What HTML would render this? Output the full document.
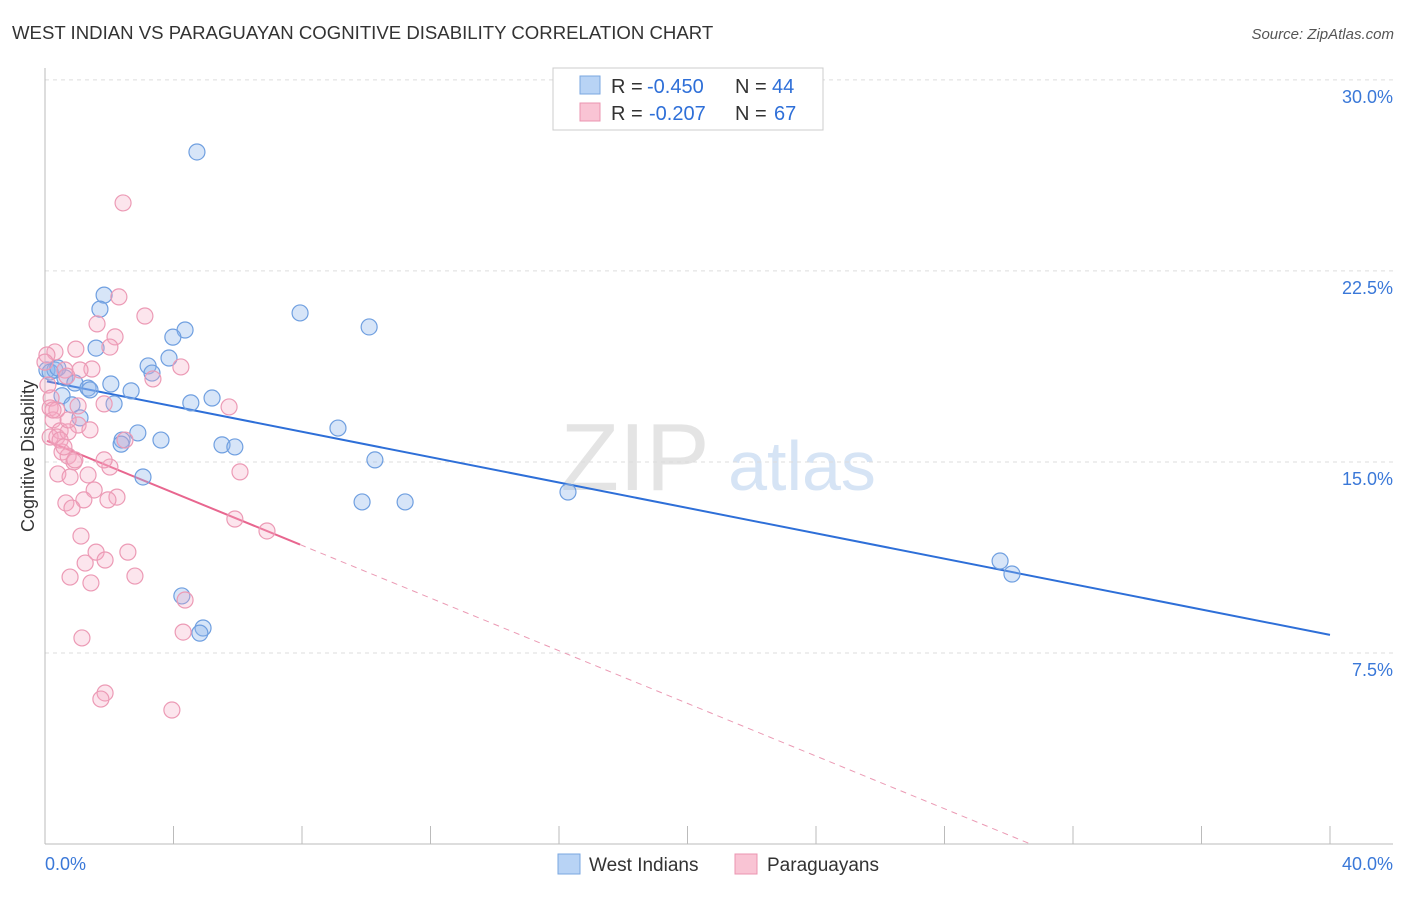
<!DOCTYPE html>
<html><head><meta charset="utf-8"><style>
body{margin:0;background:#fff;font-family:"Liberation Sans",sans-serif}
svg text{font-family:"Liberation Sans",sans-serif}
</style></head><body>
<svg id="c" width="1406" height="892" xmlns="http://www.w3.org/2000/svg">
<text x="12" y="39" font-size="18.6" fill="#333">WEST INDIAN VS PARAGUAYAN COGNITIVE DISABILITY CORRELATION CHART</text>
<text x="1394" y="39" font-size="15" fill="#555" font-style="italic" text-anchor="end">Source: ZipAtlas.com</text>
<text x="635" y="490" font-size="96" fill="#e4e4e4" font-family="Liberation Serif" text-anchor="middle">ZIP</text>
<text x="802" y="490" font-size="70" fill="#d6e4f5" text-anchor="middle">atlas</text>
<text x="34" y="456" font-size="18" fill="#333" text-anchor="middle" transform="rotate(-90 34 456)">Cognitive Disability</text>
<g id="grid"></g><g id="axes"></g><g id="lines"></g><g id="pts"></g>
<g>
<rect x="553" y="68" width="270" height="62" fill="#fff" stroke="#ccc"/>
<rect x="580" y="76" width="20" height="18" fill="#b8d3f5" stroke="#7aa7e0"/>
<rect x="580" y="103" width="20" height="18" fill="#f9c4d4" stroke="#eb94b0"/>
<text x="611" y="93" font-size="20" fill="#333">R =</text>
<text x="647" y="93" font-size="20" fill="#2e6fd8">-0.450</text>
<text x="735" y="93" font-size="20" fill="#333">N =</text>
<text x="772" y="93" font-size="20" fill="#2e6fd8">44</text>
<text x="611" y="120" font-size="20" fill="#333">R =</text>
<text x="649" y="120" font-size="20" fill="#2e6fd8">-0.207</text>
<text x="735" y="120" font-size="20" fill="#333">N =</text>
<text x="774" y="120" font-size="20" fill="#2e6fd8">67</text>
</g>
<g>
<rect x="558" y="854" width="22" height="20" fill="#b8d3f5" stroke="#7aa7e0"/>
<text x="589" y="871" font-size="19" fill="#333">West Indians</text>
<rect x="735" y="854" width="22" height="20" fill="#f9c4d4" stroke="#eb94b0"/>
<text x="767" y="871" font-size="19" fill="#333">Paraguayans</text>
</g>
</svg>
<script>
const yTicks=[7.5,15,22.5,30];
const yTickLabels=["7.5%","15.0%","22.5%","30.0%"];
const xTicks=[0,4,8,12,16,20,24,28,32,36,40];
const xEndLabels=["0.0%","40.0%"];
const blueX=[4.73,1.84,1.71,7.94,4.36,10.09,3.98,1.59,3.21,3.86,3.33,0.06,0.31,0.62,0.93,1.34,2.05,2.68,1.40,0.53,2.15,4.54,5.2,0.84,1.09,9.12,2.89,3.61,2.40,2.37,5.51,5.91,10.27,3.05,9.87,11.21,16.28,29.73,30.1,4.26,4.92,4.82,0.16,0.40];
const blueY=[27.17,21.55,21.0,20.85,20.18,20.3,19.9,19.47,18.77,19.08,18.49,18.61,18.61,18.3,18.1,17.9,18.06,17.79,17.83,17.6,17.28,17.32,17.51,17.24,16.73,16.33,16.14,15.86,15.86,15.7,15.67,15.59,15.08,14.41,13.43,13.43,13.82,11.11,10.6,9.74,8.48,8.28,18.53,18.69];
const pinkX=[2.43,2.30,3.11,1.62,2.18,2.02,0.96,0.31,0.06,4.23,3.36,0.62,1.46,1.09,0.68,0.09,0.19,5.73,1.84,1.03,0.16,0.37,0.25,1.03,0.47,0.16,0.37,2.49,0.53,0.72,0.90,2.02,6.07,0.40,1.34,0.78,1.53,1.21,2.24,1.96,0.65,0.84,5.91,6.91,1.12,1.59,2.58,1.87,1.25,0.78,2.80,1.43,4.36,4.30,1.15,1.87,1.74,3.95,0.25,0.72,0.47,0.59,0.93,1.84,0.72,0.0,1.40];
const pinkY=[25.17,21.48,20.73,20.42,19.91,19.51,19.43,19.32,19.2,18.73,18.26,18.61,18.65,18.61,18.37,18.02,17.51,17.16,17.28,17.2,17.12,17.04,16.65,16.45,16.22,15.98,15.98,15.86,15.39,15.23,15.0,14.8,14.61,14.53,14.49,14.41,13.9,13.51,13.62,13.51,13.39,13.19,12.76,12.29,12.09,11.46,11.46,11.15,11.03,10.48,10.52,10.25,9.58,8.32,8.09,5.93,5.69,5.26,17.04,16.18,15.86,15.59,15.08,15.08,16.65,18.92,16.26];
const blueTrend=[18.18,8.21];      // y at x=0 and x=40
const pinkTrend=[15.86,-0.517];    // intercept, slope (%/%)
const pinkSolidEnd=7.94;
const NS="http://www.w3.org/2000/svg";
const sx=v=>45+v*32.125, sy=v=>844-v*25.47;
function mk(tag,attrs,parent){const e=document.createElementNS(NS,tag);for(const k in attrs)e.setAttribute(k,attrs[k]);document.getElementById(parent).appendChild(e);return e;}
yTicks.forEach((t,i)=>{
  const l=mk('line',{x1:45,x2:1393,y1:sy(t),y2:sy(t),stroke:'#ddd','stroke-dasharray':'4,4'},'grid');
  
  
  const tx=mk('text',{x:1393,y:sy(t)+23,'font-size':18,fill:'#3a78d8','text-anchor':'end'},'grid');
  tx.textContent=yTickLabels[i];
  
  
});
let a=mk('line',{x1:45,x2:45,y1:68,y2:844,stroke:'#bbb'},'axes');


a=mk('line',{x1:45,x2:1393,y1:844,y2:844,stroke:'#bbb'},'axes');


xTicks.forEach(t=>{
  const l=mk('line',{x1:sx(t),x2:sx(t),y1:826,y2:844,stroke:'#bbb'},'axes');
  
  
});
[[0,'start',45],[40,'end',1393]].forEach((d,i)=>{
  const tx=mk('text',{x:d[2],y:870,'font-size':18,fill:'#3a78d8','text-anchor':d[1]},'axes');
  tx.textContent=xEndLabels[i];
  
  
});
blueX.forEach((x,i)=>{
  const c=mk('circle',{cx:sx(x),cy:sy(blueY[i]),r:8,fill:'rgba(140,180,235,0.35)',stroke:'#6f9fe0','stroke-width':1.2},'pts');
  
  
});
pinkX.forEach((x,i)=>{
  const c=mk('circle',{cx:sx(x),cy:sy(pinkY[i]),r:8,fill:'rgba(245,170,195,0.3)',stroke:'#ec9ab5','stroke-width':1.2},'pts');
  
  
});
let t=mk('line',{x1:sx(0.06),y1:sy(blueTrend[0]+(blueTrend[1]-blueTrend[0])*0.06/40),x2:sx(40),y2:sy(blueTrend[1]),stroke:'#2e6fd8','stroke-width':2},'lines');


const pz=-pinkTrend[0]/pinkTrend[1];
t=mk('line',{x1:sx(0.06),y1:sy(pinkTrend[0]+pinkTrend[1]*0.06),x2:sx(pinkSolidEnd),y2:sy(pinkTrend[0]+pinkTrend[1]*pinkSolidEnd),stroke:'#e8668f','stroke-width':2},'lines');


t=mk('line',{x1:sx(pinkSolidEnd),y1:sy(pinkTrend[0]+pinkTrend[1]*pinkSolidEnd),x2:sx(pz),y2:sy(0),stroke:'#eb9ab4','stroke-width':1,'stroke-dasharray':'6,5'},'lines');


</script>
</body></html>
